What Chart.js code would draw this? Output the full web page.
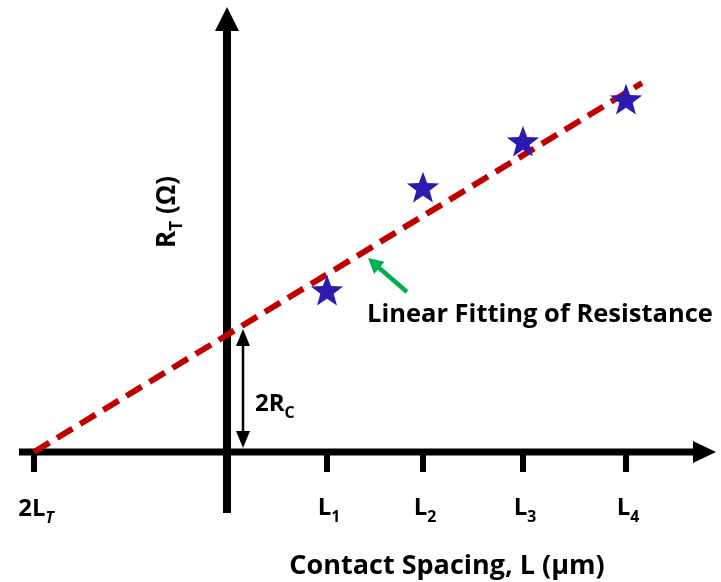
<!DOCTYPE html>
<html>
<head>
<meta charset="utf-8">
<script src="https://cdn.jsdelivr.net/npm/chart.js@4.4.1/dist/chart.umd.min.js"></script>
<style>
  html, body { margin: 0; padding: 0; background: #ffffff; }
  #wrap { width: 721px; height: 582px; }
</style>
</head>
<body>
<div id="wrap"><canvas id="tlm" width="721" height="582"></canvas></div>
<script>
// Transfer length method: total resistance versus contact spacing
const spacingValues = [1.00, 1.96, 2.96, 3.99];      // L1..L4
const spacingSubs   = ['1', '2', '3', '4'];
const totalResistance = [3.24, 5.30, 6.22, 7.06];   // R_T at each spacing
const transferIntercept = -1.93;                    // 2L_T (x-intercept)
const contactIntercept = 2.34;                      // 2R_C (y-intercept)
const fitX = [-1.93, 0, 4.15];
const fitY = [0, 2.34, 7.38];

const FONT = '"Open Sans", Lato, sans-serif';

// filled five-pointed star used as the point marker
function makeStar(outer, inner, color) {
  const size = Math.ceil(outer * 2 + 2);
  const c = document.createElement('canvas');
  c.width = size; c.height = size;
  const g = c.getContext('2d');
  const cx = size / 2, cy = size / 2 + outer * 0.1;
  g.beginPath();
  for (let i = 0; i < 10; i++) {
    const r = i % 2 === 0 ? outer : inner;
    const a = -Math.PI / 2 + i * Math.PI / 5;
    const px = cx + r * Math.cos(a), py = cy + r * Math.sin(a);
    if (i === 0) g.moveTo(px, py); else g.lineTo(px, py);
  }
  g.closePath();
  g.fillStyle = color;
  g.fill();
  return c;
}
const starImg = makeStar(17, 7, '#2c1bb0');

// text with optional subscript pieces
function richWidth(ctx, parts, size) {
  let w = 0;
  for (const p of parts) {
    ctx.font = (p.italic ? 'italic ' : '') + 'bold ' + (p.sub ? size * 0.66 : size) + 'px ' + FONT;
    w += ctx.measureText(p.t).width;
  }
  return w;
}
function drawRich(ctx, parts, x, y, size, align) {
  const w = richWidth(ctx, parts, size);
  let cx = align === 'center' ? x - w / 2 : x;
  ctx.textAlign = 'left';
  ctx.textBaseline = 'alphabetic';
  ctx.fillStyle = '#000';
  for (const p of parts) {
    const s = p.sub ? size * 0.66 : size;
    ctx.font = (p.italic ? 'italic ' : '') + 'bold ' + s + 'px ' + FONT;
    ctx.fillText(p.t, cx, y + (p.sub ? size * 0.28 : 0));
    cx += ctx.measureText(p.t).width;
  }
}

function arrowHead(ctx, tx, ty, fx, fy, len, half, color) {
  const a = Math.atan2(ty - fy, tx - fx);
  ctx.beginPath();
  ctx.moveTo(tx, ty);
  ctx.lineTo(tx - len * Math.cos(a) + half * Math.sin(a), ty - len * Math.sin(a) - half * Math.cos(a));
  ctx.lineTo(tx - len * Math.cos(a) - half * Math.sin(a), ty - len * Math.sin(a) + half * Math.cos(a));
  ctx.closePath();
  ctx.fillStyle = color;
  ctx.fill();
}

// axes with arrows and tick marks, drawn under the data
const axesPlugin = {
  id: 'tlmAxes',
  beforeDatasetsDraw(chart) {
    const { ctx, scales: { x, y } } = chart;
    const x0 = x.getPixelForValue(0), y0 = y.getPixelForValue(0);
    ctx.save();
    ctx.strokeStyle = '#000';
    ctx.lineCap = 'butt';
    // horizontal axis
    const xl = x.getPixelForValue(-2.08), xr = x.getPixelForValue(4.89);
    ctx.lineWidth = 7;
    ctx.beginPath(); ctx.moveTo(xl, y0); ctx.lineTo(xr - 20, y0); ctx.stroke();
    arrowHead(ctx, xr, y0, xl, y0, 23, 11, '#000');
    // vertical axis
    const yt = y.getPixelForValue(8.9), yb = y.getPixelForValue(-1.22);
    ctx.lineWidth = 8;
    ctx.beginPath(); ctx.moveTo(x0, yb); ctx.lineTo(x0, yt + 20); ctx.stroke();
    arrowHead(ctx, x0, yt, x0, yb, 24, 12, '#000');
    // tick marks
    ctx.lineWidth = 6;
    for (const v of spacingValues.concat([transferIntercept])) {
      const px = x.getPixelForValue(v);
      ctx.beginPath(); ctx.moveTo(px, y0); ctx.lineTo(px, y0 + 20); ctx.stroke();
    }
    ctx.restore();
  },
  afterDatasetsDraw(chart) {
    const { ctx, scales: { x, y } } = chart;
    const x0 = x.getPixelForValue(0), y0 = y.getPixelForValue(0);
    ctx.save();
    // tick labels
    spacingValues.forEach((v, i) => {
      drawRich(ctx, [{ t: 'L' }, { t: spacingSubs[i], sub: true }], x.getPixelForValue(v) + 2, y0 + 63, 24, 'center');
    });
    drawRich(ctx, [{ t: '2L' }, { t: 'T', sub: true, italic: true }], x.getPixelForValue(transferIntercept) + 2, y0 + 64, 24, 'center');
    // axis titles
    drawRich(ctx, [{ t: 'Contact Spacing, L (\u00b5m)' }], 447, 574, 27, 'center');
    ctx.save();
    ctx.translate(175, 212);
    ctx.rotate(-Math.PI / 2);
    drawRich(ctx, [{ t: 'R' }, { t: 'T', sub: true }, { t: ' (\u03a9)' }], 0, 0, 26, 'center');
    ctx.restore();
    // 2R_C dimension arrow
    const ax = x0 + 16;
    const aTop = y.getPixelForValue(contactIntercept) - 6, aBot = y0 - 4;
    ctx.strokeStyle = '#000';
    ctx.lineWidth = 2.5;
    ctx.beginPath(); ctx.moveTo(ax, aTop + 14); ctx.lineTo(ax, aBot - 14); ctx.stroke();
    arrowHead(ctx, ax, aTop, ax, aBot, 17, 7, '#000');
    arrowHead(ctx, ax, aBot, ax, aTop, 17, 7, '#000');
    drawRich(ctx, [{ t: '2R' }, { t: 'C', sub: true }], ax + 12, 411, 24, 'left');
    // annotation for the fitted line
    const tailX = x.getPixelForValue(1.80), tailY = y.getPixelForValue(3.20);
    const tipX = x.getPixelForValue(1.41), tipY = y.getPixelForValue(3.88);
    ctx.strokeStyle = '#00b050';
    ctx.lineWidth = 4.5;
    ctx.beginPath(); ctx.moveTo(tailX, tailY); ctx.lineTo(tipX + 9, tipY + 8); ctx.stroke();
    arrowHead(ctx, tipX, tipY, tailX, tailY, 15, 8, '#00b050');
    drawRich(ctx, [{ t: 'Linear Fitting of Resistance' }], x.getPixelForValue(1.40), y.getPixelForValue(2.60), 25.5, 'left');
    ctx.restore();
  }
};

new Chart(document.getElementById('tlm'), {
  type: 'scatter',
  data: {
    datasets: [
      {
        label: 'Linear fit',
        type: 'line',
        data: fitX.map((v, i) => ({ x: v, y: fitY[i] })),
        borderColor: '#c00000',
        borderWidth: 6,
        borderDash: [18, 9],
        borderCapStyle: 'butt',
        pointRadius: 0,
        fill: false,
        tension: 0,
        clip: false,
        order: 2
      },
      {
        label: 'R_T',
        data: spacingValues.map((v, i) => ({ x: v, y: totalResistance[i] })),
        pointStyle: starImg,
        pointRadius: 17,
        clip: false,
        order: 1
      }
    ]
  },
  options: {
    responsive: false,
    animation: false,
    devicePixelRatio: 1,
    layout: { padding: 0, autoPadding: false },
    plugins: { legend: { display: false }, tooltip: { enabled: false } },
    scales: {
      x: { type: 'linear', min: -2.27, max: 4.94, display: false },
      y: { type: 'linear', min: -2.6, max: 9.04, display: false }
    }
  },
  plugins: [axesPlugin]
});
</script>
</body>
</html>
